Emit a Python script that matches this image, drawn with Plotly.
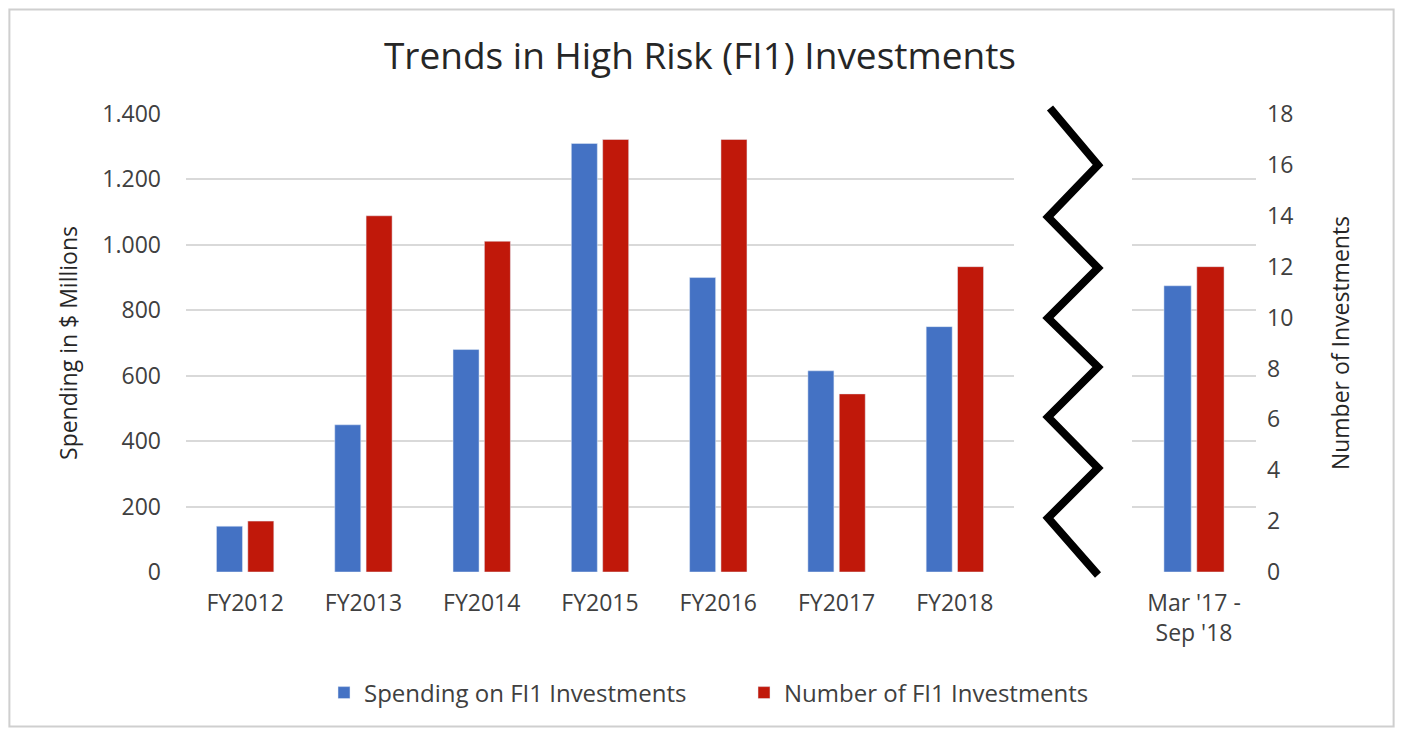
import plotly.graph_objects as go

# ---------------- data ----------------
categories_main = ["FY2012", "FY2013", "FY2014", "FY2015", "FY2016", "FY2017", "FY2018"]
category_extra = ["Mar '17 -<br>Sep '18"]
spending_main = [140, 450, 680, 1310, 900, 615, 750]      # $ millions
spending_extra = [875]
count_main = [2, 14, 13, 17, 17, 7, 12]                    # number of investments
count_extra = [12]
left_ticks = [0, 200, 400, 600, 800, 1000, 1200, 1400]
right_ticks = [0, 2, 4, 6, 8, 10, 12, 14, 16, 18]

# ---------------- style ----------------
OFF = 8                      # page body margin
W, H = 1403 - 2 * OFF, 736 - 2 * OFF
BLUE = "#4472C4"
RED = "#C0180A"
GRID = "#D9D9D9"
TXT = "#404040"
DARK = "#262626"
FONT = "Open Sans"


def fx(p):
    return (p - OFF) / W


def fy(p):
    return 1 - (p - OFF) / H


fig = go.Figure()
fig.add_bar(x=categories_main, y=spending_main, name="Spending on FI1 Investments",
            marker_color=BLUE, xaxis="x", yaxis="y", offsetgroup="s", legendgroup="s")
fig.add_bar(x=categories_main, y=count_main, name="Number of FI1 Investments",
            marker_color=RED, xaxis="x", yaxis="y2", offsetgroup="n", legendgroup="n")
fig.add_bar(x=category_extra, y=spending_extra, name="Spending on FI1 Investments",
            marker_color=BLUE, xaxis="x2", yaxis="y3", offsetgroup="s", legendgroup="s",
            showlegend=False)
fig.add_bar(x=category_extra, y=count_extra, name="Number of FI1 Investments",
            marker_color=RED, xaxis="x2", yaxis="y4", offsetgroup="n", legendgroup="n",
            showlegend=False)

ydom = [fy(572), fy(114)]
tickfont = dict(family=FONT, size=23, color=TXT)

# zigzag break marker
zig = [(1050, 108), (1098, 165), (1048, 217), (1098, 268), (1048, 318), (1098, 367),
       (1048, 417), (1098, 468), (1048, 518), (1098, 575)]
path = "M " + " L ".join(f"{fx(a):.5f},{fy(b):.5f}" for a, b in zig)

fig.update_layout(
    width=W, height=H,
    margin=dict(l=0, r=0, t=0, b=0),
    paper_bgcolor="white", plot_bgcolor="white",
    separators=",.",
    barmode="group", bargap=0.47, bargroupgap=0.17,
    font=dict(family=FONT, color=TXT),
    title=dict(text="Trends in High Risk (FI1) Investments", x=fx(700), xanchor="center",
               y=fy(56), yanchor="middle",
               font=dict(family=FONT, size=37, color=DARK)),
    xaxis=dict(domain=[fx(186), fx(1014)], anchor="y", showgrid=False, showline=False,
               ticks="", tickfont=tickfont, ticklabelstandoff=15, automargin=False),
    yaxis=dict(domain=ydom, anchor="x", range=[0, 1400], tickvals=left_ticks,
               tickformat=",", showgrid=True, gridcolor=GRID, gridwidth=1.5,
               zeroline=False, showline=False, ticks="", tickfont=tickfont,
               ticklabelstandoff=24, automargin=False,
               title=dict(text="Spending in $ Millions", standoff=18,
                          font=dict(family=FONT, size=23, color=DARK))),
    yaxis2=dict(overlaying="y", anchor="x", side="right", range=[0, 18],
                showgrid=False, showticklabels=False, zeroline=False, showline=False,
                ticks=""),
    xaxis2=dict(domain=[fx(1132), fx(1256)], anchor="y3", showgrid=False, showline=False,
                ticks="", tickfont=tickfont, ticklabelstandoff=15, automargin=False),
    yaxis3=dict(domain=ydom, anchor="x2", range=[0, 1400], tickvals=left_ticks,
                showgrid=True, gridcolor=GRID, gridwidth=1.5, zeroline=False,
                showline=False, showticklabels=False, ticks=""),
    yaxis4=dict(overlaying="y3", anchor="x2", side="right", range=[0, 18],
                tickvals=right_ticks, showgrid=False, zeroline=False, showline=False,
                ticks="", tickfont=tickfont, ticklabelstandoff=10, automargin=False,
                title=dict(text="Number of Investments", standoff=40,
                           font=dict(family=FONT, size=23, color=DARK))),
    legend=dict(orientation="h", x=fx(744), xanchor="center", y=fy(693), yanchor="middle",
                font=dict(family=FONT, size=24, color=TXT), entrywidth=375,
                entrywidthmode="pixels", traceorder="normal"),
    shapes=[
        dict(type="path", path=path, xref="paper", yref="paper",
             line=dict(color="black", width=8)),
        dict(type="rect", xref="paper", yref="paper", x0=0.001, x1=0.999,
             y0=0.002, y1=0.998, line=dict(color="#CFCFCF", width=2),
             fillcolor="rgba(0,0,0,0)"),
    ],
)

fig.write_html("out.html")
